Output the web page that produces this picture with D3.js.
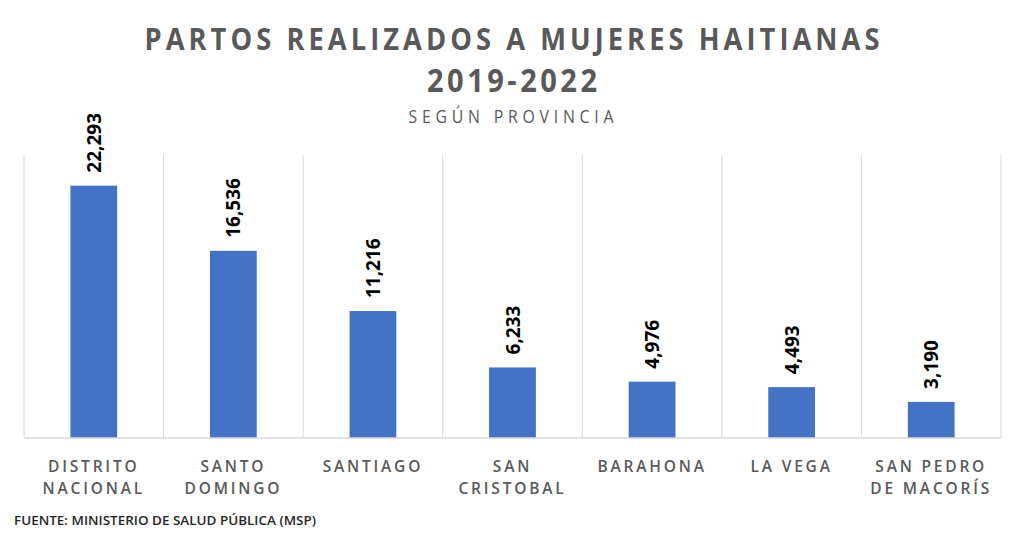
<!DOCTYPE html>
<html>
<head>
<meta charset="utf-8">
<script src="https://cdn.jsdelivr.net/npm/d3@7/dist/d3.min.js"></script>
<style>
  body { margin: 0; background: #fff; }
  svg { display: block; }
</style>
</head>
<body>
<div id="chart"></div>
<script>
var categories = [
  ["DISTRITO", "NACIONAL"],
  ["SANTO", "DOMINGO"],
  ["SANTIAGO"],
  ["SAN", "CRISTOBAL"],
  ["BARAHONA"],
  ["LA VEGA"],
  ["SAN PEDRO", "DE MACORÍS"]
];
var partos = [22293, 16536, 11216, 6233, 4976, 4493, 3190];

var width = 1024, height = 547;
var margin = {top: 155, right: 23, bottom: 109, left: 24};

var svg = d3.select("#chart").append("svg")
  .attr("width", width)
  .attr("height", height);

var x = d3.scaleBand()
  .domain(d3.range(categories.length))
  .range([margin.left, width - margin.right])
  .paddingInner(0)
  .paddingOuter(0);

var y = d3.scaleLinear()
  .domain([0, 25000])
  .range([height - margin.bottom, margin.top]);

// vertical gridlines between categories
var edges = d3.range(categories.length + 1).map(function(i){
  return i < categories.length ? x(i) : x(i - 1) + x.bandwidth();
});
svg.append("g").selectAll("line")
  .data(edges)
  .enter().append("line")
  .attr("x1", function(d){ return d; })
  .attr("x2", function(d){ return d; })
  .attr("y1", y.range()[1])
  .attr("y2", y.range()[0])
  .attr("stroke", "#d9d9d9")
  .attr("stroke-width", 1);

// bars
var barW = x.bandwidth() * 0.335;
svg.append("g").selectAll("rect")
  .data(partos)
  .enter().append("rect")
  .attr("x", function(d, i){ return x(i) + (x.bandwidth() - barW) / 2; })
  .attr("y", function(d){ return y(d); })
  .attr("width", barW)
  .attr("height", function(d){ return y(0) - y(d); })
  .attr("fill", "#4472c4");

// baseline
svg.append("line")
  .attr("x1", x.range()[0])
  .attr("x2", x.range()[1])
  .attr("y1", y(0))
  .attr("y2", y(0))
  .attr("stroke", "#d9d9d9")
  .attr("stroke-width", 1.5);

// value labels, rotated
var fmt = d3.format(",");
svg.append("g").selectAll("text")
  .data(partos)
  .enter().append("text")
  .attr("transform", function(d, i){
    var cx = x(i) + x.bandwidth() / 2;
    return "translate(" + (cx + 7) + "," + (y(d) - 13) + ") rotate(-90)";
  })
  .attr("text-anchor", "start")
  .style("font-family", "'Open Sans', sans-serif")
  .style("font-weight", "700")
  .style("font-size", "19px")
  .attr("fill", "#000")
  .text(function(d){ return fmt(d); });

// category labels
var catG = svg.append("g").selectAll("text")
  .data(categories)
  .enter().append("text")
  .attr("x", function(d, i){ return x(i) + x.bandwidth() / 2; })
  .attr("y", 472)
  .attr("text-anchor", "middle")
  .style("font-family", "'Open Sans', sans-serif")
  .style("font-weight", "600")
  .style("font-size", "15.5px")
  .style("letter-spacing", "2.8px")
  .attr("fill", "#595959");
catG.selectAll("tspan")
  .data(function(d){ return d; })
  .enter().append("tspan")
  .attr("x", function(){ return this.parentNode.getAttribute("x"); })
  .attr("dy", function(d, j){ return j === 0 ? 0 : 22; })
  .text(function(d){ return d; });

// titles (narrowed glyphs, wide spacing)
var sx = 0.88;
svg.append("g")
  .attr("transform", "translate(512,50) scale(" + sx + ",1)")
  .append("text")
  .attr("text-anchor", "middle")
  .style("font-family", "'Open Sans', sans-serif")
  .style("font-weight", "700")
  .style("font-size", "31px")
  .attr("textLength", 735 / sx)
  .attr("lengthAdjust", "spacing")
  .attr("fill", "#595959")
  .text("PARTOS REALIZADOS A MUJERES HAITIANAS");

svg.append("g")
  .attr("transform", "translate(512,92) scale(" + sx + ",1)")
  .append("text")
  .attr("text-anchor", "middle")
  .style("font-family", "'Open Sans', sans-serif")
  .style("font-weight", "700")
  .style("font-size", "33px")
  .attr("textLength", 170 / sx)
  .attr("lengthAdjust", "spacing")
  .attr("fill", "#595959")
  .text("2019-2022");

svg.append("g")
  .attr("transform", "translate(511,123) scale(0.88,1)")
  .append("text")
  .attr("text-anchor", "middle")
  .style("font-family", "'Open Sans', sans-serif")
  .style("font-size", "18px")
  .attr("textLength", 205 / 0.88)
  .attr("lengthAdjust", "spacing")
  .attr("fill", "#595959")
  .text("SEGÚN PROVINCIA");

// source
svg.append("text")
  .attr("x", 14).attr("y", 525)
  .style("font-family", "'Open Sans', sans-serif")
  .style("font-weight", "600")
  .style("font-size", "12.5px")
  .attr("textLength", 302)
  .attr("lengthAdjust", "spacingAndGlyphs")
  .attr("fill", "#262626")
  .text("FUENTE: MINISTERIO DE SALUD PÚBLICA (MSP)");
</script>
</body>
</html>
